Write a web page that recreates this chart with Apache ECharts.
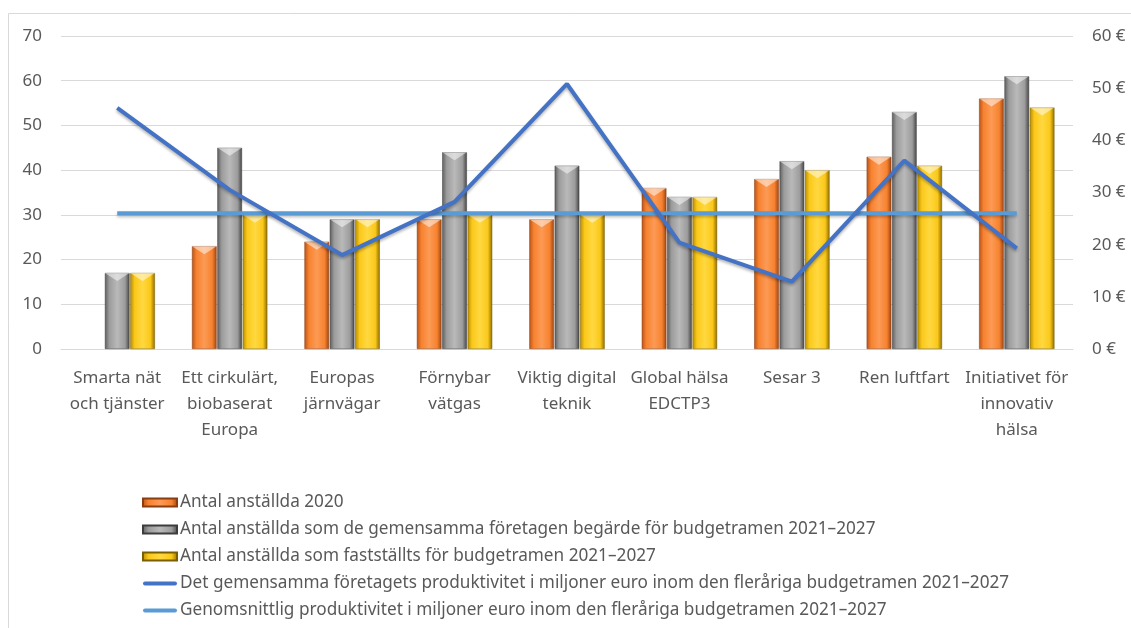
<!DOCTYPE html>
<html>
<head>
<meta charset="utf-8">
<script src="https://cdn.jsdelivr.net/npm/echarts@6/dist/echarts.min.js"></script>
<style>
html,body{margin:0;padding:0;background:#fff;}
#chart{width:1131px;height:628px;}
</style>
</head>
<body>
<div id="chart"></div>
<script>
// categories (joint undertakings)
const categories = [
  'Smarta nät\noch tjänster',
  'Ett cirkulärt,\nbiobaserat\nEuropa',
  'Europas\njärnvägar',
  'Förnybar\nvätgas',
  'Viktig digital\nteknik',
  'Global hälsa\nEDCTP3',
  'Sesar 3',
  'Ren luftfart',
  'Initiativet för\ninnovativ\nhälsa'
];
const staff2020     = ['-', 23, 24, 29, 29, 36, 38, 43, 56];
const staffRequested = [17, 45, 29, 44, 41, 34, 42, 53, 61];
const staffSet      = [17, 30, 29, 30, 30, 34, 40, 41, 54];
const productivity  = [46.2, 30.5, 18.0, 28.2, 50.8, 20.4, 12.9, 36.1, 19.3];
const avgProductivity = [26, 26, 26, 26, 26, 26, 26, 26, 26];

const seriesNames = [
  'Antal anställda 2020',
  'Antal anställda som de gemensamma företagen begärde för budgetramen 2021–2027',
  'Antal anställda som fastställts för budgetramen 2021–2027',
  'Det gemensamma företagets produktivitet i miljoner euro inom den fleråriga budgetramen 2021–2027',
  'Genomsnittlig produktivitet i miljoner euro inom den fleråriga budgetramen 2021–2027'
];

function cyl(edgeL, mid, light, edgeR){
  return new echarts.graphic.LinearGradient(0, 0, 1, 0, [
    {offset: 0, color: edgeL},
    {offset: 0.18, color: mid},
    {offset: 0.5, color: light},
    {offset: 0.82, color: mid},
    {offset: 1, color: edgeR}
  ]);
}

const orange = cyl('#b8531a', '#f7822f', '#fc9a55', '#9c4512');
const grey   = cyl('#5e5e5e', '#9c9c9c', '#b9b9b9', '#454545');
const yellow = cyl('#b58c00', '#fbc81a', '#ffd840', '#8f6e00');

const font = 'Noto Sans';
const lineIcon = 'path://M2,0 L32,0 A2,2 0 0 1 32,4 L2,4 A2,2 0 0 1 2,0 Z';
const bevel = 'path://M0,0 L24,0 L12,8 Z';

// top chevron drawn over each bar
function cap(data){
  return {
    type: 'pictorialBar',
    data: data,
    symbol: bevel,
    symbolPosition: 'end',
    symbolSize: ['100%', 8],
    symbolOffset: [0, 0],
    barGap: '3%',
    barCategoryGap: '33%',
    itemStyle: {color: 'rgba(255,255,255,0.5)'},
    silent: true,
    z: 3
  };
}

const chart = echarts.init(document.getElementById('chart'));
chart.setOption({
  animation: false,
  textStyle: {fontFamily: font},
  graphic: [{
    type: 'rect',
    shape: {x: 8.5, y: 13.5, width: 1300, height: 800},
    style: {fill: 'none', stroke: '#d9d9d9', lineWidth: 1},
    silent: true
  }],
  grid: {left: 61, right: 58, top: 36, bottom: 279},
  legend: {
    orient: 'vertical',
    left: 137,
    top: 488,
    itemWidth: 34,
    itemHeight: 8,
    itemGap: 8,
    textStyle: {color: '#595959', fontSize: 17.2, fontFamily: font, lineHeight: 19, padding: [0, 0, 0, -2]},
    data: [
      {name: seriesNames[0], icon: 'rect'},
      {name: seriesNames[1], icon: 'rect'},
      {name: seriesNames[2], icon: 'rect'},
      {name: seriesNames[3], icon: lineIcon},
      {name: seriesNames[4], icon: lineIcon}
    ]
  },
  xAxis: {
    type: 'category',
    data: categories,
    axisLine: {lineStyle: {color: '#d9d9d9'}},
    axisTick: {show: false},
    axisLabel: {
      interval: 0,
      color: '#595959',
      fontSize: 17,
      lineHeight: 26,
      margin: 16,
      fontFamily: font
    }
  },
  yAxis: [{
    type: 'value',
    min: 0, max: 70, interval: 10,
    axisLine: {show: false},
    axisTick: {show: false},
    splitLine: {lineStyle: {color: '#d9d9d9'}},
    axisLabel: {color: '#595959', fontSize: 17, margin: 19, fontFamily: font}
  }, {
    type: 'value',
    min: 0, max: 60, interval: 10,
    axisLine: {show: false},
    axisTick: {show: false},
    splitLine: {show: false},
    axisLabel: {color: '#595959', fontSize: 17, margin: 19, fontFamily: font, formatter: '{value} €'}
  }],
  series: [{
    name: seriesNames[0],
    type: 'bar',
    data: staff2020,
    barGap: '3%',
    barCategoryGap: '33%',
    itemStyle: {color: orange, borderColor: '#8a3d10', borderWidth: 0.5}
  }, {
    name: seriesNames[1],
    type: 'bar',
    data: staffRequested,
    itemStyle: {color: grey, borderColor: '#3d3d3d', borderWidth: 0.5}
  }, {
    name: seriesNames[2],
    type: 'bar',
    data: staffSet,
    itemStyle: {color: yellow, borderColor: '#7a5e00', borderWidth: 0.5}
  },
  cap(staff2020), cap(staffRequested), cap(staffSet),
  {
    name: seriesNames[3],
    type: 'line',
    yAxisIndex: 1,
    data: productivity,
    symbol: 'none',
    lineStyle: {color: '#4472c4', width: 4, shadowColor: 'rgba(0,0,0,0.3)', shadowBlur: 3, shadowOffsetY: 2},
    itemStyle: {color: '#4472c4'},
    z: 5
  }, {
    name: seriesNames[4],
    type: 'line',
    yAxisIndex: 1,
    data: avgProductivity,
    symbol: 'none',
    lineStyle: {color: '#5b9bd5', width: 4, shadowColor: 'rgba(0,0,0,0.25)', shadowBlur: 3, shadowOffsetY: 2},
    itemStyle: {color: '#5b9bd5'},
    z: 4
  }]
});
</script>
</body>
</html>
